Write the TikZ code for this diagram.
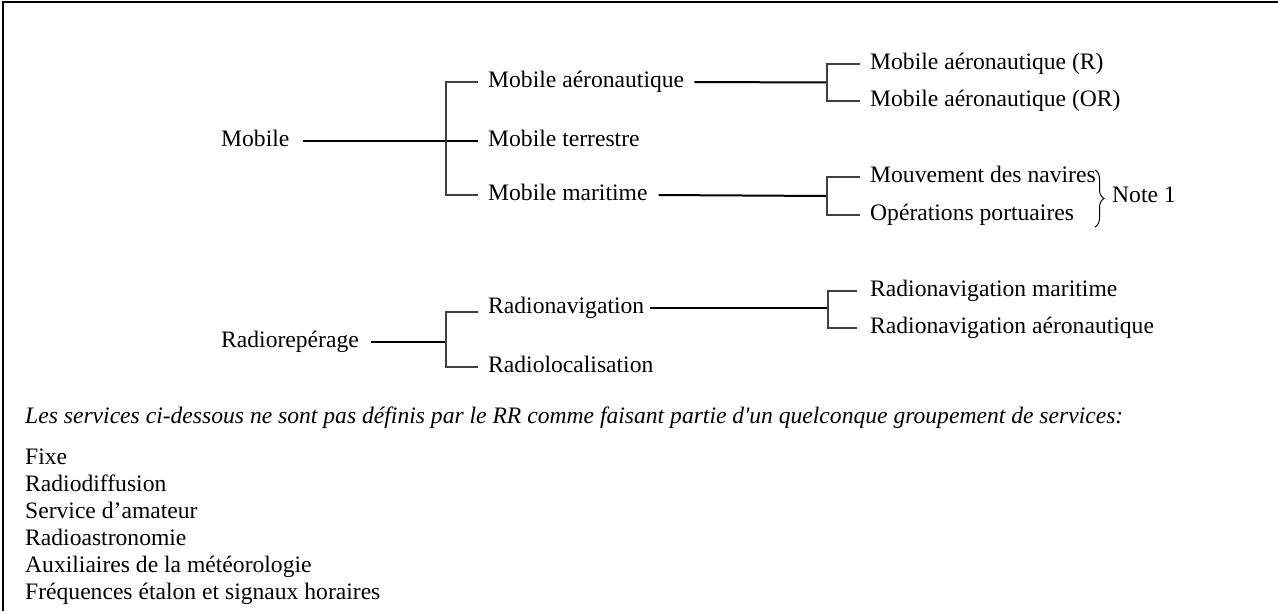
\documentclass[tikz,border=0pt]{standalone}
\usepackage{fontspec}
\setmainfont{Liberation Serif}
\usetikzlibrary{decorations.pathreplacing}
\begin{document}
\begin{tikzpicture}[x=1pt,y=-1pt,
  lbl/.style={inner sep=0pt, text height=11pt, text depth=0pt, anchor=west, font=\fontsize{23.6}{27}\selectfont},
  ital/.style={lbl, font=\fontsize{23.6}{27}\selectfont\itshape\addfontfeatures{Ligatures=TeXOff}},
  thk/.style={line width=2pt},
  thn/.style={line width=1.1pt, black!75},
  frame/.style={line width=1.6pt}]
\useasboundingbox (0,0) rectangle (1278,611);
\draw[frame] (1278,2) -- (3,2) -- (3,611);

% Mobile tree
\node[lbl] (mob) at (221,140.5) {Mobile};
\node[lbl] (maero) at (488,82) {Mobile aéronautique};
\node[lbl] (mter) at (488,140.5) {Mobile terrestre};
\node[lbl] (mmar) at (488,195) {Mobile maritime};
\node[lbl] (mar) at (870,64) {Mobile aéronautique (R)};
\node[lbl] (maor) at (870,101) {Mobile aéronautique (OR)};
\node[lbl] (mouv) at (870,177) {Mouvement des navires};
\node[lbl] (oper) at (870,215) {Opérations portuaires};
\node[lbl] (note) at (1112,197) {Note 1};

\coordinate (j1) at (446,140.5);
\coordinate (j2) at (827,82.5);
\coordinate (j3) at (827,196);

\draw[thk] ([xshift=13pt]mob.east) -- ([xshift=-10pt]mter.west);
\draw[thn] ([xshift=-10pt]maero.west) -| (j1) |- ([xshift=-10pt]mmar.west);

\draw[thk] ([xshift=10pt]maero.east) -- (j2);
\draw[thn] ([xshift=-10pt]mar.west) -| (j2) |- ([xshift=-10pt]maor.west);

\draw[thk] ([xshift=11pt]mmar.east) -- (j3);
\draw[thn] ([xshift=-10pt]mouv.west) -| (j3) |- ([xshift=-10pt]oper.west);

\coordinate (bt) at (1095,170);
\coordinate (bb) at (1095,227);
\draw[line width=1pt, decorate, decoration={brace, amplitude=9pt}] (bt) -- (bb);

% Radioreperage tree
\node[lbl] (rrep) at (221,342) {Radiorepérage};
\node[lbl] (rnav) at (488,308) {Radionavigation};
\node[lbl] (rloc) at (488,367) {Radiolocalisation};
\node[lbl] (rnm) at (870,291) {Radionavigation maritime};
\node[lbl] (rna) at (870,328) {Radionavigation aéronautique};

\coordinate (j4) at (446,342);
\coordinate (j5) at (828,308);

\draw[thk] ([xshift=12pt]rrep.east) -- (j4);
\draw[thn] ([xshift=-10pt]rnav.west |- 0,312) -| (j4) |- ([xshift=-10pt]rloc.west);

\draw[thk] ([xshift=6pt]rnav.east) -- (j5);
\draw[thn] ([xshift=-13pt]rnm.west) -| (j5) |- ([xshift=-13pt]rna.west);

% Notes
\node[ital] (txt) at (25,418) {Les services ci-dessous ne sont pas définis par le RR comme faisant partie d'un quelconque groupement de services:};
\node[lbl] (l1) at (25,459) {Fixe};
\node[lbl] (l2) at (25,486) {Radiodiffusion};
\node[lbl] (l3) at (25,513) {Service d’amateur};
\node[lbl] (l4) at (25,540) {Radioastronomie};
\node[lbl] (l5) at (25,567) {Auxiliaires de la météorologie};
\node[lbl] (l6) at (25,594) {Fréquences étalon et signaux horaires};
\end{tikzpicture}
\end{document}
